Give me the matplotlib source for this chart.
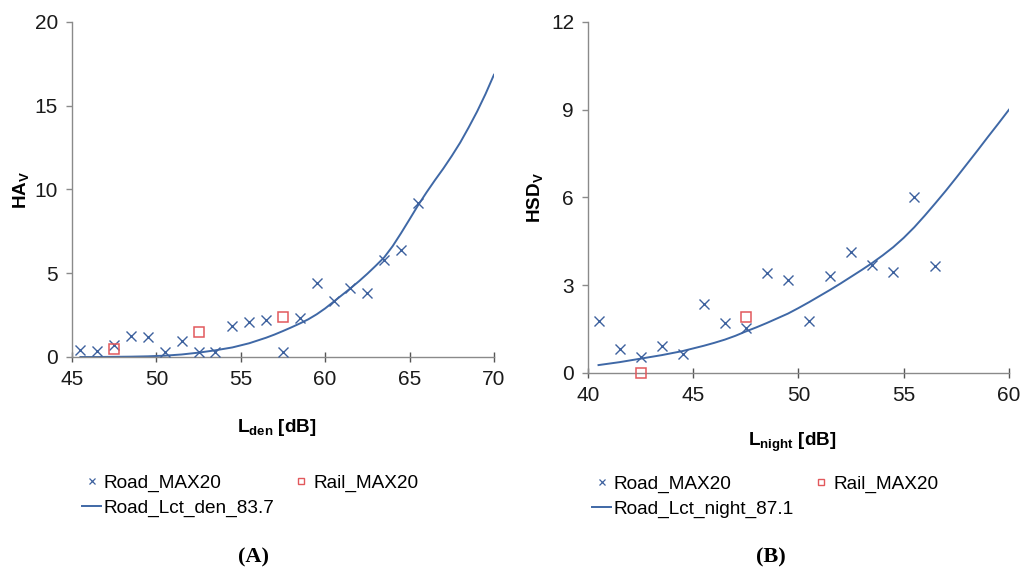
import matplotlib
matplotlib.use('Agg')
import matplotlib.pyplot as plt
from matplotlib.lines import Line2D

plt.rcParams['font.family'] = ['Liberation Sans', 'DejaVu Sans']
plt.rcParams['mathtext.fontset'] = 'custom'
plt.rcParams['mathtext.rm'] = 'Liberation Sans'
plt.rcParams['mathtext.bf'] = 'Liberation Sans:bold'
plt.rcParams['mathtext.it'] = 'Liberation Sans:italic'

# ---------------------------------------------------------------
# Data
# ---------------------------------------------------------------

# Panel A: annoyance vs Lden
road_a_x = [45.5, 46.5, 47.5, 48.5, 49.5, 50.5, 51.5, 52.5, 53.5, 54.5, 55.5,
            56.5, 57.5, 58.5, 59.5, 60.5, 61.5, 62.5, 63.5, 64.5, 65.5]
road_a_y = [0.44, 0.34, 0.70, 1.27, 1.20, 0.28, 0.94, 0.28, 0.32, 1.87, 2.09,
            2.23, 0.32, 2.33, 4.44, 3.33, 4.12, 3.84, 5.80, 6.39, 9.18]
rail_a_x = [47.5, 52.5, 57.5]
rail_a_y = [0.48, 1.49, 2.39]
curve_a_x = [45.5, 46.5, 47.5, 48.5, 49.5, 50.5, 51.5, 52.5, 53.5, 54.5, 55.5,
             56.5, 57.0, 57.5, 58.0, 58.5, 59.0, 59.5, 60.0, 60.5, 61.0, 61.5,
             62.0, 62.5, 63.0, 63.5, 64.0, 64.5, 65.0, 65.5, 66.0, 66.5, 67.0,
             67.5, 68.0, 68.5, 69.0, 69.5, 70.0]
curve_a_y = [0.0, 0.0, 0.01, 0.02, 0.04, 0.08, 0.15, 0.26, 0.40, 0.57, 0.82,
             1.15, 1.34, 1.55, 1.77, 2.00, 2.25, 2.55, 2.90, 3.30, 3.70, 4.10,
             4.52, 4.97, 5.45, 5.95, 6.62, 7.40, 8.22, 9.05, 9.82, 10.55,
             11.25, 12.00, 12.80, 13.70, 14.65, 15.70, 16.85]

# Panel B: sleep disturbance vs Lnight
road_b_x = [40.5, 41.5, 42.5, 43.5, 44.5, 45.5, 46.5, 47.5, 48.5, 49.5, 50.5,
            51.5, 52.5, 53.5, 54.5, 55.5, 56.5]
road_b_y = [1.76, 0.83, 0.54, 0.91, 0.65, 2.36, 1.71, 1.54, 3.42, 3.17, 1.76,
            3.31, 4.13, 3.68, 3.44, 6.01, 3.67]
rail_b_x = [42.5, 47.5]
rail_b_y = [0.0, 1.90]
curve_b_x = [40.5, 41.0, 41.5, 42.0, 42.5, 43.0, 43.5, 44.0, 44.5, 45.0, 45.5,
             46.0, 46.5, 47.0, 47.5, 48.0, 48.5, 49.0, 49.5, 50.0, 50.5, 51.0,
             51.5, 52.0, 52.5, 53.0, 53.5, 54.0, 54.5, 55.0, 55.5, 56.0, 56.5,
             57.0, 57.5, 58.0, 58.5, 59.0, 59.5, 60.0]
curve_b_y = [0.27, 0.32, 0.37, 0.43, 0.49, 0.55, 0.61, 0.68, 0.75, 0.84, 0.93,
             1.03, 1.14, 1.27, 1.42, 1.56, 1.71, 1.87, 2.03, 2.22, 2.42, 2.63,
             2.84, 3.06, 3.29, 3.52, 3.76, 4.02, 4.30, 4.62, 4.98, 5.38, 5.80,
             6.23, 6.68, 7.14, 7.60, 8.07, 8.53, 9.00]

xticks_a = [45, 50, 55, 60, 65, 70]
yticks_a = [0, 5, 10, 15, 20]
xticks_b = [40, 45, 50, 55, 60]
yticks_b = [0, 3, 6, 9, 12]

BLUE = '#3d619e'
LINE_BLUE = '#3f68a6'
RED = '#e2585c'
SPINE = '#8a8a8a'
TICK_FS = 15
LEGEND_FS = 13.7
LABEL_FS = 13.6


def style_axes(ax, xticks, yticks):
    ax.set_xlim(xticks[0], xticks[-1])
    ax.set_ylim(yticks[0], yticks[-1])
    ax.set_xticks(xticks)
    ax.set_yticks(yticks)
    for side in ('top', 'right'):
        ax.spines[side].set_visible(False)
    for side in ('left', 'bottom'):
        ax.spines[side].set_color(SPINE)
        ax.spines[side].set_linewidth(1.0)
    ax.tick_params(axis='x', direction='inout', length=7, width=1.0,
                   color='#555555', labelsize=TICK_FS, pad=6,
                   labelcolor='#1a1a1a')
    ax.tick_params(axis='y', direction='out', length=4, width=1.0,
                   color=SPINE, labelsize=TICK_FS, pad=6,
                   labelcolor='#1a1a1a')


def draw_panel(ax, rx, ry, sx, sy, cx, cy):
    ax.plot(cx, cy, color=LINE_BLUE, lw=1.4, zorder=2,
            solid_joinstyle='round')
    ax.plot(rx, ry, ls='none', marker='x', ms=6.5, mew=1.0, color=BLUE,
            zorder=3, clip_on=False)
    ax.plot(sx, sy, ls='none', marker='s', ms=6.5, mew=1.1, mfc='none',
            mec=RED, zorder=4, clip_on=False)


fig = plt.figure(figsize=(10.21, 5.69), dpi=100)
ax_a = fig.add_axes([0.0705, 0.3726, 0.4133, 0.5888])
ax_b = fig.add_axes([0.5759, 0.3445, 0.4123, 0.6169])

draw_panel(ax_a, road_a_x, road_a_y, rail_a_x, rail_a_y, curve_a_x, curve_a_y)
draw_panel(ax_b, road_b_x, road_b_y, rail_b_x, rail_b_y, curve_b_x, curve_b_y)
style_axes(ax_a, xticks_a, yticks_a)
style_axes(ax_b, xticks_b, yticks_b)

ax_a.set_ylabel(r'$\mathbf{HA_{V}}$', fontsize=LABEL_FS)
ax_a.yaxis.set_label_coords(-0.097, 0.5)
ax_a.set_xlabel(r'$\mathbf{L_{den}}$ [dB]', fontsize=LABEL_FS,
                fontweight='bold')
ax_a.xaxis.set_label_coords(0.486, -0.18)

ax_b.set_ylabel(r'$\mathbf{HSD_{V}}$', fontsize=LABEL_FS)
ax_b.yaxis.set_label_coords(-0.103, 0.5)
ax_b.set_xlabel(r'$\mathbf{L_{night}}$ [dB]', fontsize=LABEL_FS,
                fontweight='bold')
ax_b.xaxis.set_label_coords(0.485, -0.165)


def add_legend(anchor, line_label):
    handles = [
        Line2D([], [], ls='none', marker='x', ms=4.5, mew=0.9, color=BLUE),
        Line2D([], [], color=LINE_BLUE, lw=1.4),
        Line2D([], [], ls='none', marker='s', ms=5, mew=1.0, mfc='none',
               mec=RED),
    ]
    labels = ['Road_MAX20', line_label, 'Rail_MAX20']
    fig.legend(handles, labels, loc='upper left', bbox_to_anchor=anchor,
               bbox_transform=fig.transFigure, ncol=2, frameon=False,
               fontsize=LEGEND_FS, handlelength=1.0, handletextpad=0.15,
               columnspacing=0.9, labelspacing=0.42, borderpad=0,
               borderaxespad=0)


add_legend((82 / 1021, 1 - 474 / 569), 'Road_Lct_den_83.7')
add_legend((592 / 1021, 1 - 475 / 569), 'Road_Lct_night_87.1')

fig.text(253 / 1021, 1 - 557 / 569, '(A)', ha='center', va='center',
         fontsize=16, fontweight='bold', family='Liberation Serif')
fig.text(771 / 1021, 1 - 557 / 569, '(B)', ha='center', va='center',
         fontsize=16, fontweight='bold', family='Liberation Serif')

fig.savefig('out.png', dpi=100)
